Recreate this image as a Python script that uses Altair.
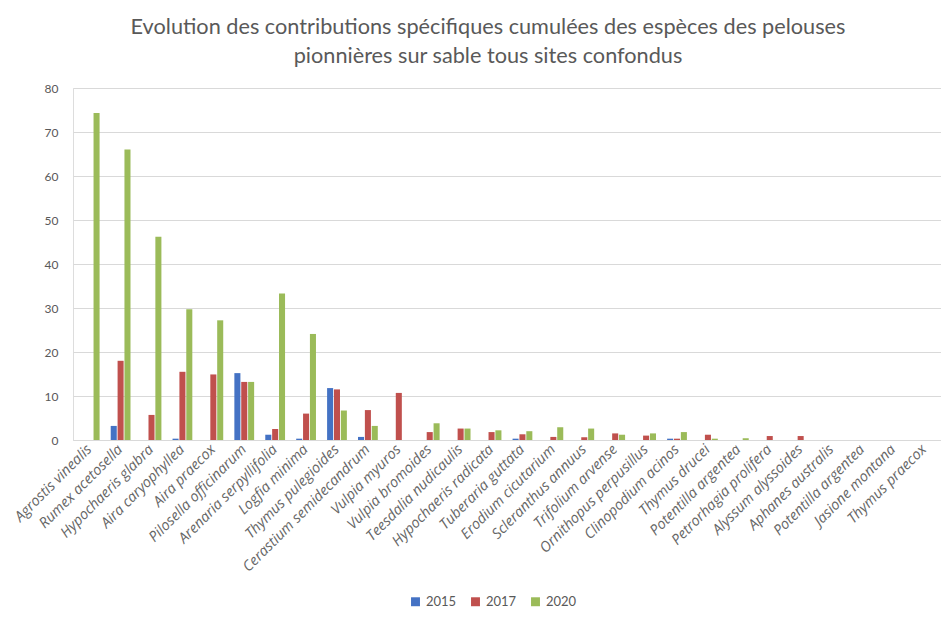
import altair as alt
import pandas as pd

species = [
    "Agrostis vinealis", "Rumex acetosella", "Hypochaeris glabra", "Aira caryophyllea",
    "Aira praecox", "Pilosella officinarum", "Arenaria serpyllifolia", "Logfia minima",
    "Thymus pulegioides", "Cerastium semidecandrum", "Vulpia myuros", "Vulpia bromoides",
    "Teesdalia nudicaulis", "Hypochaeris radicata", "Tuberaria guttata", "Erodium cicutarium",
    "Scleranthus annuus", "Trifolium arvense", "Ornithopus perpusillus", "Clinopodium acinos",
    "Thymus drucei", "Potentilla argentea", "Petrorhagia prolifera", "Alyssum alyssoides",
    "Aphanes australis", "Potentilla argentea ", "Jasione montana", "Thymus praecox",
]
years = ["2015", "2017", "2020"]
v2015 = [0, 3.2, 0, 0.3, 0, 15.2, 1.2, 0.3, 11.8, 0.7, 0, 0, 0, 0, 0.3, 0, 0, 0, 0, 0.3, 0, 0, 0, 0, 0, 0, 0, 0]
v2017 = [0, 18.0, 5.7, 15.5, 14.9, 13.2, 2.5, 6.0, 11.5, 6.8, 10.7, 1.8, 2.6, 1.8, 1.3, 0.7, 0.6, 1.5, 1.0, 0.3, 1.2, 0, 0.9, 0.9, 0, 0, 0, 0]
v2020 = [74.3, 66.0, 46.2, 29.7, 27.2, 13.2, 33.3, 24.1, 6.7, 3.2, 0, 3.8, 2.6, 2.2, 2.0, 2.9, 2.6, 1.2, 1.5, 1.8, 0.3, 0.4, 0, 0, 0, 0, 0, 0]
colors = ["#4472C4", "#C0504D", "#9BBB59"]
y_ticks = [0, 10, 20, 30, 40, 50, 60, 70, 80]

rows = []
for i, s in enumerate(species):
    for y, vals in zip(years, [v2015, v2017, v2020]):
        rows.append({"species": s, "year": y, "value": vals[i]})
df = pd.DataFrame(rows)

FONT = "Lato"
GREY = "#595959"

chart = alt.Chart(df).mark_bar().encode(
    x=alt.X("species:N", sort=species, title=None,
            scale=alt.Scale(paddingInner=0.36, paddingOuter=0.22),
            axis=alt.Axis(labelAngle=-45, labelAlign="right", labelBaseline="middle",
                          labelFont="Open Sans", labelFontSize=14.5, labelFontStyle="italic",
                          labelColor="#666666", ticks=False, domain=True, domainColor="#D9D9D9",
                          labelPadding=7, labelOverlap=False, labelLimit=250)),
    xOffset=alt.XOffset("year:N", sort=years, scale=alt.Scale(paddingInner=0.12)),
    y=alt.Y("value:Q", title=None,
            scale=alt.Scale(domain=[0, 80], nice=False),
            axis=alt.Axis(values=y_ticks, labelFont=FONT, labelFontSize=12, labelColor=GREY,
                          ticks=False, domain=False, gridColor="#D9D9D9", labelPadding=15)),
    color=alt.Color("year:N", sort=years,
                    scale=alt.Scale(domain=years, range=colors),
                    legend=alt.Legend(title=None, orient="none", direction="horizontal",
                                      legendX=336, legendY=507, symbolType="square",
                                      symbolSize=80, labelFont=FONT, labelFontSize=13,
                                      labelColor=GREY, columnPadding=12)),
).properties(
    width=868,
    height=352,
    title=alt.TitleParams(
        ["Evolution des contributions spécifiques cumulées des espèces des pelouses",
         "pionnières sur sable tous sites confondus"],
        font=FONT, fontSize=21.7, fontWeight="normal", color=GREY, anchor="middle",
        dx=-19, offset=14, lineHeight=29),
).configure_view(stroke=None).configure(padding={"left": 3, "top": 9, "right": 0, "bottom": 0})

chart.save("out.html", embed_options={"renderer": "svg", "actions": False})
